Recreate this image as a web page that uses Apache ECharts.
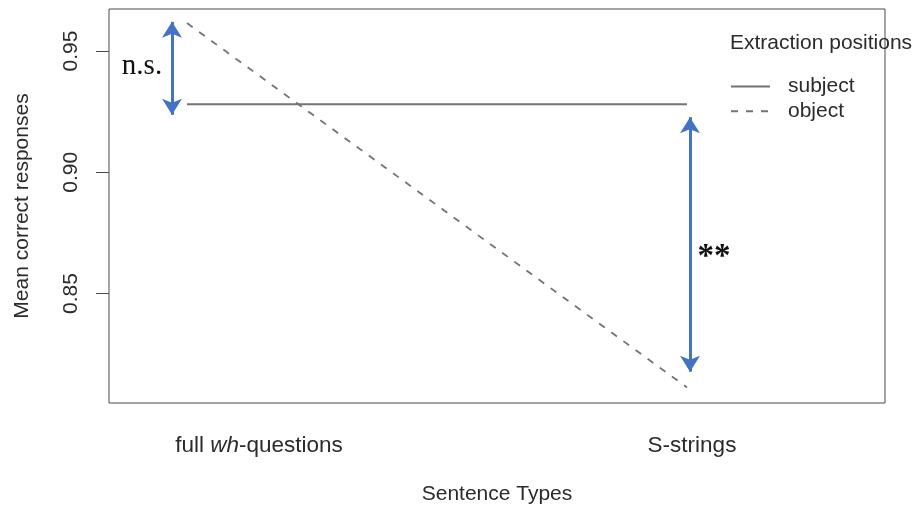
<!DOCTYPE html>
<html>
<head>
<meta charset="utf-8">
<script src="https://cdn.jsdelivr.net/npm/echarts@6/dist/echarts.min.js"></script>
<style>
html,body{margin:0;padding:0;background:#fff;}
#chart{width:917px;height:510px;}
</style>
</head>
<body>
<div id="chart"></div>
<script>
// ---- data ----
const categories = ['full wh-questions', 'S-strings'];
const categoryRich = ['full {i|wh}-questions', 'S-strings'];
const xPositions = [1, 2];
const subjectValues = [0.928, 0.928];
const objectValues = [0.9615, 0.8113];
const yTickValues = [0.85, 0.90, 0.95];
const seriesNames = ['subject', 'object'];
const legendTitle = 'Extraction positions';
// significance annotations: [x, yLow, yHigh, label]
const nsArrow = [0.97, 0.9237, 0.962, 'n.s.'];
const sigArrow = [2.006, 0.8178, 0.9227, '**'];

const FONT = '"Liberation Sans", Arial, sans-serif';
const SERIF = '"Liberation Serif", "Times New Roman", serif';
const TXT = '#2b2b2b';
const LINE = '#737373';
const BLUE = '#4472C4';

const chart = echarts.init(document.getElementById('chart'), null, {renderer: 'canvas'});

const option = {
  animation: false,
  backgroundColor: '#fff',
  textStyle: {fontFamily: FONT},
  grid: {left: 109, right: 32, top: 9, bottom: 106, show: true, borderColor: '#4a4a4a', borderWidth: 1, backgroundColor: 'transparent'},
  xAxis: {
    type: 'value', min: 0.844, max: 2.396,
    axisLine: {show: false}, axisTick: {show: false}, splitLine: {show: false},
    axisLabel: {show: false},
    name: 'Sentence Types', nameLocation: 'middle', nameGap: 81,
    nameTextStyle: {fontFamily: FONT, fontSize: 21, color: TXT}
  },
  yAxis: {
    type: 'value', min: 0.8049, max: 0.9673,
    axisLine: {show: false},
    splitLine: {show: false},
    axisTick: {show: true, length: 13, inside: false, customValues: yTickValues, lineStyle: {color: '#4a4a4a', width: 1}},
    axisLabel: {show: true, rotate: 90, margin: 27, customValues: yTickValues, fontFamily: FONT, fontSize: 21, color: TXT,
      formatter: v => v.toFixed(2)},
    name: 'Mean correct responses', nameLocation: 'middle', nameGap: 76, nameRotate: 90,
    nameTextStyle: {fontFamily: FONT, fontSize: 21, color: TXT}
  },
  legend: {
    orient: 'vertical', left: 725, top: 71, itemWidth: 39, itemHeight: 14, itemGap: 3.7,
    itemStyle: {color: 'transparent', borderWidth: 0, opacity: 0},
    textStyle: {fontFamily: FONT, fontSize: 21, color: TXT, padding: [0, 0, 0, 13]},
    data: seriesNames
  },
  series: [
    {
      name: seriesNames[0], type: 'line', symbol: 'none',
      data: xPositions.map((x, i) => [x, subjectValues[i]]),
      lineStyle: {color: LINE, width: 2, type: 'solid'}, itemStyle: {color: LINE},
      markLine: {
        silent: true, symbol: ['arrow', 'arrow'], symbolSize: [15, 16],
        label: {show: false},
        lineStyle: {color: BLUE, width: 3, type: 'solid'},
        data: [
          [{coord: [nsArrow[0], nsArrow[1]]}, {coord: [nsArrow[0], nsArrow[2]]}],
          [{coord: [sigArrow[0], sigArrow[1]]}, {coord: [sigArrow[0], sigArrow[2]]}]
        ]
      }
    },
    {
      name: seriesNames[1], type: 'line', symbol: 'none',
      data: xPositions.map((x, i) => [x, objectValues[i]]),
      lineStyle: {color: LINE, width: 1.8, type: [7, 8]}, itemStyle: {color: LINE}
    }
  ]
};
chart.setOption(option);

// annotations placed relative to data coordinates
const p1 = chart.convertToPixel({gridIndex: 0}, [nsArrow[0], (nsArrow[1] + nsArrow[2]) / 2]);
const p2 = chart.convertToPixel({gridIndex: 0}, [sigArrow[0], (sigArrow[1] + sigArrow[2]) / 2]);
const c1 = chart.convertToPixel({gridIndex: 0}, [xPositions[0], 0.9]);
const c2 = chart.convertToPixel({gridIndex: 0}, [xPositions[1], 0.9]);
const bottomY = chart.convertToPixel({gridIndex: 0}, [1, 0.8049])[1];

chart.setOption({
  graphic: [
    {type: 'text', left: 730, top: 33, style: {text: legendTitle, font: '21px ' + FONT, fill: TXT}},
    {type: 'text', x: p1[0] - 30, y: p1[1] - 2, style: {text: nsArrow[3], font: '29px ' + SERIF, fill: '#111', align: 'center', verticalAlign: 'middle'}},
    {type: 'text', x: p2[0] + 24, y: p2[1] + 13, style: {text: sigArrow[3], font: 'bold 33px ' + SERIF, fill: '#111', align: 'center', verticalAlign: 'middle'}},
    {type: 'text', x: c1[0] + 72, y: bottomY + 43, style: {text: categoryRich[0], font: '22.5px ' + FONT, fill: TXT, align: 'center', verticalAlign: 'middle',
      rich: {i: {fontStyle: 'italic', fontSize: 22.5, fontFamily: FONT, fill: TXT}}}},
    {type: 'text', x: c2[0] + 5, y: bottomY + 43, style: {text: categoryRich[1], font: '22.5px ' + FONT, fill: TXT, align: 'center', verticalAlign: 'middle'}}
  ]
});
</script>
</body>
</html>
